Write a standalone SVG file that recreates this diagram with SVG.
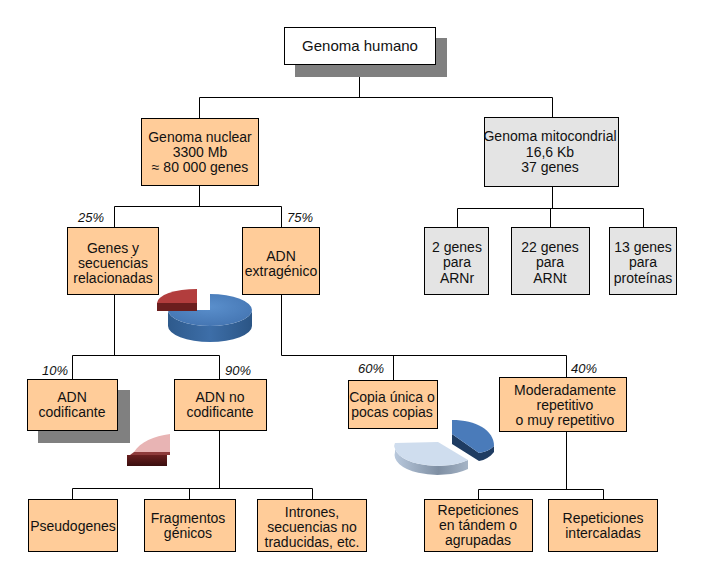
<svg xmlns="http://www.w3.org/2000/svg" width="709" height="576" viewBox="0 0 709 576">
<defs>
<style>
.box{fill:#FFCC99;stroke:#000;stroke-width:1}
.gbox{fill:#E4E4E4;stroke:#000;stroke-width:1}
.wbox{fill:#FFFFFF;stroke:#000;stroke-width:1}
.shadow{fill:#808080}
.t{font-family:"Liberation Sans",Arial,sans-serif;font-size:14px;fill:#111;text-anchor:middle}
.t15{font-size:15px}
.pct{font-family:"Liberation Sans",Arial,sans-serif;font-size:13px;font-style:italic;fill:#111;text-anchor:start}
.ln{fill:none;stroke:#000;stroke-width:1}
</style>
<linearGradient id="blueSide" x1="0" y1="0" x2="1" y2="0">
<stop offset="0" stop-color="#2E5A8C"/>
<stop offset="0.5" stop-color="#3D6EA8"/>
<stop offset="1" stop-color="#2B5585"/>
</linearGradient>
<radialGradient id="blueTop" cx="0.5" cy="0.4" r="0.6">
<stop offset="0" stop-color="#5A8FCC"/>
<stop offset="1" stop-color="#4576B3"/>
</radialGradient>
<linearGradient id="lightSide" x1="0" y1="0" x2="1" y2="0">
<stop offset="0" stop-color="#B8C8DC"/>
<stop offset="0.6" stop-color="#7F8FA3"/>
<stop offset="1" stop-color="#A5B4C6"/>
</linearGradient>
<linearGradient id="slab" x1="0" y1="0" x2="0" y2="1">
<stop offset="0" stop-color="#6A2020"/>
<stop offset="1" stop-color="#3A0E0E"/>
</linearGradient>
</defs>

<g id="connectors">
<path class="ln" d="M359.5 65 V97.5 M199.5 97.5 H552.5 M199.5 97.5 V118 M552.5 97.5 V117"/>
<path class="ln" d="M199.5 186 V206.5 M114.5 206.5 H281.5 M114.5 206.5 V227 M281.5 206.5 V227"/>
<path class="ln" d="M552.5 187 V208.5 M457.5 208.5 H643.5 M457.5 208.5 V227 M550.5 208.5 V227 M643.5 208.5 V227"/>
<path class="ln" d="M114.5 295 V355.5 M72.5 355.5 H219.5 M72.5 355.5 V379 M219.5 355.5 V379"/>
<path class="ln" d="M281.5 295 V355.5 H566.5 M393.5 355.5 V380 M566.5 355.5 V377"/>
<path class="ln" d="M219.5 431 V488.5 M72.5 488.5 H312.5 M72.5 488.5 V499 M189.5 488.5 V499 M312.5 488.5 V499"/>
<path class="ln" d="M566.5 432 V489.5 M478.5 489.5 H603.5 M478.5 489.5 V499 M603.5 489.5 V499"/>
</g>

<g id="genoma-humano">
<rect class="shadow" x="295" y="38" width="152" height="39"/>
<rect class="wbox" x="284.5" y="27.5" width="151" height="37"/>
<text class="t t15" x="360" y="51">Genoma humano</text>
</g>

<g id="genoma-nuclear">
<rect class="box" x="141.5" y="118.5" width="117" height="67"/>
<text class="t" x="200" y="142">Genoma nuclear</text>
<text class="t" x="200" y="157">3300 Mb</text>
<text class="t" x="200" y="172">≈ 80 000 genes</text>
</g>

<g id="genoma-mitocondrial">
<rect class="gbox" x="484.5" y="117.5" width="134" height="69"/>
<text class="t" x="550" y="141">Genoma mitocondrial</text>
<text class="t" x="550" y="157">16,6 Kb</text>
<text class="t" x="550" y="172">37 genes</text>
</g>

<g id="arnr">
<rect class="gbox" x="424.5" y="227.5" width="64" height="67"/>
<text class="t" x="457" y="252">2 genes</text>
<text class="t" x="457" y="267">para</text>
<text class="t" x="457" y="283">ARNr</text>
</g>

<g id="arnt">
<rect class="gbox" x="511.5" y="227.5" width="78" height="67"/>
<text class="t" x="550" y="252">22 genes</text>
<text class="t" x="550" y="267">para</text>
<text class="t" x="550" y="283">ARNt</text>
</g>

<g id="proteinas">
<rect class="gbox" x="609.5" y="227.5" width="67" height="67"/>
<text class="t" x="643" y="252">13 genes</text>
<text class="t" x="643" y="267">para</text>
<text class="t" x="643" y="283">proteínas</text>
</g>

<g id="genes-secuencias">
<text class="pct" x="78" y="222">25%</text>
<rect class="box" x="67.5" y="227.5" width="91" height="67"/>
<text class="t" x="113" y="253">Genes y</text>
<text class="t" x="113" y="268">secuencias</text>
<text class="t" x="113" y="283">relacionadas</text>
</g>

<g id="adn-extragenico">
<text class="pct" x="287" y="222">75%</text>
<rect class="box" x="242.5" y="227.5" width="77" height="67"/>
<text class="t" x="281" y="261">ADN</text>
<text class="t" x="281" y="276">extragénico</text>
</g>

<g id="pie-nuclear">
<path d="M252 310 A42 16 0 0 1 168 310 L168 326 A42 16 0 0 0 252 326 Z" fill="url(#blueSide)"/>
<path d="M210 310 L210 294 A42 16 0 1 1 168 310 Z" fill="url(#blueTop)"/>
<path d="M157 303 L197 303 L197 311 L157 311 Z" fill="#6B1E1E"/>
<path d="M197 303 L157 303 A40 14 0 0 1 197 289 Z" fill="#B23D3D"/>
</g>

<g id="adn-codificante">
<text class="pct" x="42" y="375">10%</text>
<rect class="shadow" x="38" y="390" width="92" height="53"/>
<rect class="box" x="27.5" y="379.5" width="90" height="51"/>
<text class="t" x="72" y="402">ADN</text>
<text class="t" x="72" y="417">codificante</text>
</g>

<g id="adn-no-codificante">
<text class="pct" x="225" y="375">90%</text>
<rect class="box" x="174.5" y="379.5" width="92" height="51"/>
<text class="t" x="220" y="402">ADN no</text>
<text class="t" x="220" y="417">codificante</text>
</g>

<g id="pie-genes">
<rect x="127" y="455" width="40" height="11" fill="url(#slab)"/>
<path d="M134 452 L170 452 L170 455 L130 455 Z" fill="#8E3B3B"/>
<path d="M170 434 L170 452 L134 452 C140 442 154 436 170 434 Z" fill="#E8B4B4"/>
</g>

<g id="copia-unica">
<text class="pct" x="358" y="373">60%</text>
<rect class="box" x="348.5" y="380.5" width="89" height="48"/>
<text class="t" x="392" y="402">Copia única o</text>
<text class="t" x="392" y="417">pocas copias</text>
</g>

<g id="repetitivo">
<text class="pct" x="571" y="373">40%</text>
<rect class="box" x="499.5" y="377.5" width="127" height="54"/>
<text class="t" x="565" y="395">Moderadamente</text>
<text class="t" x="565" y="410">repetitivo</text>
<text class="t" x="565" y="425">o muy repetitivo</text>
</g>

<g id="pie-extragenico">
<path d="M468 460 L468 469 A43 20 0 0 1 395 452 L395 443 A43 20 0 0 0 468 460 Z" fill="url(#lightSide)"/>
<path d="M395 443 L438 442 L468 460 A43 20 0 0 1 395 443 Z" fill="#CFDDEE"/>
<path d="M452 434 L479 453 C485 452 490 450 494 446 L494 452 C490 457 485 460 479 461 L452 444 Z" fill="#1F3C62"/>
<path d="M452 434 L452 420 C476 420 494 430 494 446 C490 450 485 452 479 453 Z" fill="#4A7BBA"/>
</g>

<g id="pseudogenes">
<rect class="box" x="28.5" y="499.5" width="89" height="52"/>
<text class="t" x="73" y="531">Pseudogenes</text>
</g>

<g id="fragmentos">
<rect class="box" x="144.5" y="499.5" width="91" height="52"/>
<text class="t" x="188" y="523">Fragmentos</text>
<text class="t" x="188" y="538">génicos</text>
</g>

<g id="intrones">
<rect class="box" x="257.5" y="499.5" width="109" height="52"/>
<text class="t" x="312" y="517">Intrones,</text>
<text class="t" x="312" y="532">secuencias no</text>
<text class="t" x="312" y="547">traducidas, etc.</text>
</g>

<g id="tandem">
<rect class="box" x="424.5" y="499.5" width="108" height="52"/>
<text class="t" x="478" y="515">Repeticiones</text>
<text class="t" x="478" y="530">en tándem o</text>
<text class="t" x="478" y="545">agrupadas</text>
</g>

<g id="intercaladas">
<rect class="box" x="548.5" y="499.5" width="109" height="52"/>
<text class="t" x="603" y="523">Repeticiones</text>
<text class="t" x="603" y="538">intercaladas</text>
</g>
</svg>
